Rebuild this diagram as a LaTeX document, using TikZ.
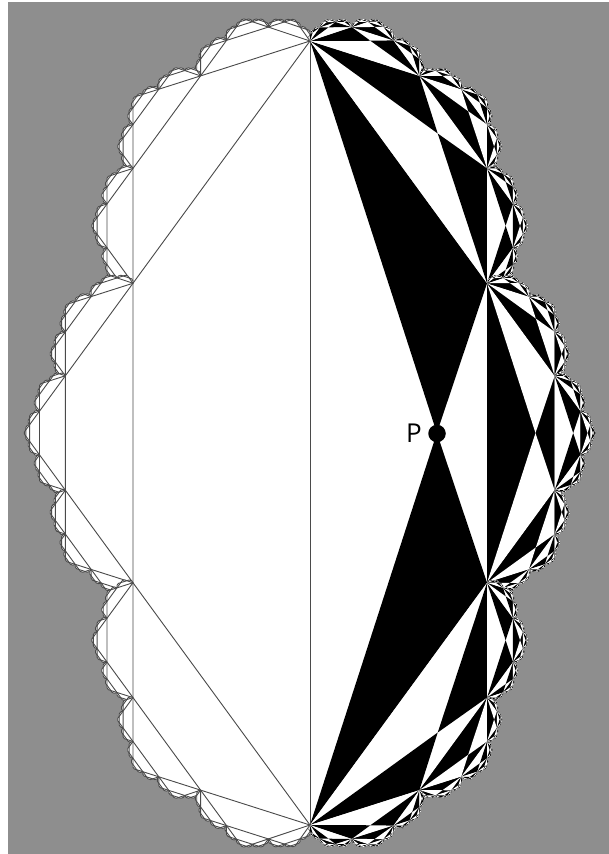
\documentclass[tikz,border=0pt]{standalone}
\usepackage{fontspec}
\setmainfont{Open Sans}
\usepackage{xcolor}
\usetikzlibrary{positioning}
\definecolor{cloudbg}{HTML}{8E8E8E}
\definecolor{cloudline}{HTML}{4A4A4A}
\tikzset{
    panelbg/.style = {fill=cloudbg, draw=none},
    thinline/.style = {draw=cloudline, line width=0.9pt, line join=round},
    hubdot/.style = {circle, fill=black, inner sep=0pt, minimum size=17.5pt},
    hublabel/.style = {font=\fontsize{26}{26}\selectfont, inner sep=0pt},
}
% one edge (U to V): the three new sides are 0.382 of it, the hub is where the diagonals meet
\newcommand{\splitedge}[4]{%
    \pgfmathsetmacro{\dx}{#3-#1}\pgfmathsetmacro{\dy}{#4-#2}%
    \pgfmathsetmacro{\ax}{#1+0.309*\dx-\sidesign*0.2258*\dy}%
    \pgfmathsetmacro{\ay}{#2+0.309*\dy+\sidesign*0.2258*\dx}%
    \pgfmathsetmacro{\bx}{#1+0.691*\dx-\sidesign*0.2258*\dy}%
    \pgfmathsetmacro{\by}{#2+0.691*\dy+\sidesign*0.2258*\dx}%
    \pgfmathsetmacro{\hx}{#1+0.5*\dx-\sidesign*0.1618*\dy}%
    \pgfmathsetmacro{\hy}{#2+0.5*\dy+\sidesign*0.1618*\dx}%
}
% left half: white with thin lines, each line goes on after the smaller pieces
\newcommand{\lineedge}[5]{%
    \ifnum#5>0 \begingroup
    \splitedge{#1}{#2}{#3}{#4}%
    \fill[white] (#1,#2) -- (\ax,\ay) -- (\bx,\by) -- (#3,#4) -- cycle;
    \pgfmathtruncatemacro{\nxt}{#5-1}%
    \edef\rest{%
        \noexpand\lineedge{#1}{#2}{\ax}{\ay}{\nxt}%
        \noexpand\lineedge{\ax}{\ay}{\bx}{\by}{\nxt}%
        \noexpand\lineedge{\bx}{\by}{#3}{#4}{\nxt}}%
    \rest
    \draw[thinline] (#1,#2) -- (\ax,\ay) -- (\bx,\by) -- (#3,#4);
    \endgroup\fi}
% right half: triangles round each hub, colours swap on the middle side (#6 is 0 or 1)
\newcommand{\fanedge}[6]{%
    \ifnum#5>0 \begingroup
    \splitedge{#1}{#2}{#3}{#4}%
    \ifnum#6=0 \def\backcol{white}\def\sidecol{black}\else\def\backcol{black}\def\sidecol{white}\fi
    \fill[\backcol] (#1,#2) -- (\ax,\ay) -- (\bx,\by) -- (#3,#4) -- cycle;
    \fill[\sidecol] (#1,#2) -- (\ax,\ay) -- (\hx,\hy) -- cycle;
    \fill[\sidecol] (\bx,\by) -- (#3,#4) -- (\hx,\hy) -- cycle;
    \pgfmathtruncatemacro{\nxt}{#5-1}%
    \pgfmathtruncatemacro{\flip}{1-#6}%
    \edef\rest{%
        \noexpand\fanedge{#1}{#2}{\ax}{\ay}{\nxt}{#6}%
        \noexpand\fanedge{\ax}{\ay}{\bx}{\by}{\nxt}{\flip}%
        \noexpand\fanedge{\bx}{\by}{#3}{#4}{\nxt}{#6}}%
    \rest
    \endgroup\fi}
\begin{document}
\begin{tikzpicture}[x=1pt, y=-1pt]
\useasboundingbox (0,0) rectangle (609,854);
\fill[white] (0,0) rectangle (609,854);
\fill[panelbg] (8,2) rectangle (609,854);
\def\sidesign{1}
\lineedge{310}{41}{310}{825}{6}
\def\sidesign{-1}
\fanedge{310}{41}{310}{825}{6}{0}
\draw[thinline] (310,41) -- (310,825);
\node[hubdot] (hub) at (437,433.5) {};
\node[hublabel, left=6pt of hub] (hubname) {P};
\end{tikzpicture}
\end{document}
